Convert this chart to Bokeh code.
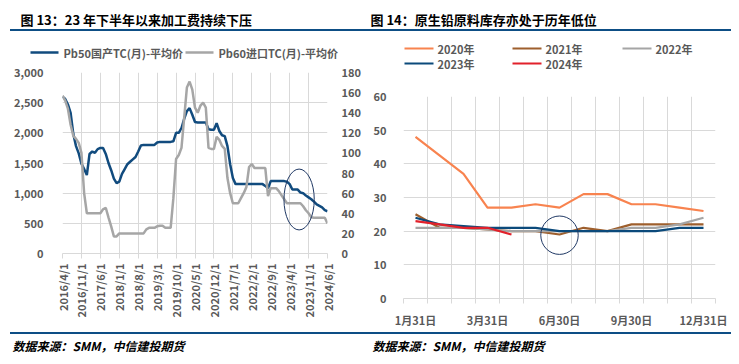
from math import pi
from bokeh.plotting import figure
from bokeh.models import (Range1d, LinearAxis, FixedTicker, NumeralTickFormatter, Label, Div, Plot)
from bokeh.layouts import column, row
from bokeh.embed import file_html
from bokeh.resources import INLINE

FONT = "Noto Sans CJK SC"
TICK_COLOR = "#595959"
GRID = "#d9d9d9"
RULE = "#0d4e85"
NO_ALIGN = {"frame_align": False} if "frame_align" in Plot.properties() else {}

# ---------------- left chart data (monthly, from 2016/4) ----------------
pb50_tc = [
    2600, 2560, 2470, 2330, 1980, 1780, 1660, 1490, 1400, 1300,
    1650, 1690, 1670, 1730, 1750, 1750, 1650, 1500, 1380, 1240,
    1165, 1190, 1320, 1400, 1480, 1520, 1560, 1600, 1690, 1790,
    1800, 1800, 1800, 1800, 1800, 1840, 1850, 1850, 1850, 1850,
    1850, 1860, 2000, 2000, 2080, 2230, 2360, 2410, 2300, 2180,
    2170, 2170, 2170, 2170, 2060, 2050, 2050, 2160, 2030, 1960,
    1945, 1780, 1480, 1250, 1150, 1150, 1150, 1150, 1150, 1150,
    1150, 1150, 1150, 1150, 1150, 1120, 1080, 1200, 1200, 1200,
    1200, 1200, 1200, 1190, 1150, 1060, 1060, 1060, 1010, 1000,
    960, 930, 900, 860, 815, 790, 765, 720, 700,
]
pb60_tc = [
    157, 152, 144, 128, 117, 114, 110, 100, 60, 40,
    40, 40, 40, 40, 40, 44, 45.5, 36, 27, 17,
    17, 20, 20, 20, 20, 20, 20, 20, 20, 20,
    20, 24, 25.5, 25.5, 25.5, 27, 27.5, 27.5, 25.5, 25.5,
    25.5, 55, 94, 98, 105, 135, 165, 171, 163, 145,
    140, 147, 150, 145, 105, 104, 104, 116, 113, 107,
    104, 75, 60, 50, 50, 50, 55, 60, 66, 86,
    89, 85, 85, 85, 85, 85, 57, 65, 65, 65,
    62, 58, 54, 50, 50, 50, 50, 50, 50, 47,
    43, 40, 36, 35.5, 35.5, 35.5, 35.5, 35.5, 30,
]
left_xtick_labels = ["2016/4/1", "2016/11/1", "2017/6/1", "2018/1/1", "2018/8/1",
                     "2019/3/1", "2019/10/1", "2020/5/1", "2020/12/1", "2021/7/1",
                     "2022/2/1", "2022/9/1", "2023/4/1", "2023/11/1", "2024/6/1"]
left_yticks = [0, 500, 1000, 1500, 2000, 2500, 3000]
right_axis_ticks = [0, 20, 40, 60, 80, 100, 120, 140, 160, 180]

# month labels for each data point
month_labels = []
yy, mm = 2016, 4
for _ in range(len(pb50_tc)):
    month_labels.append(f"{yy}/{mm}/1")
    mm += 1
    if mm > 12:
        mm, yy = 1, yy + 1
x_idx = list(range(len(month_labels)))

# ---------------- right chart data ----------------
inv_dates = ["1月31日", "2月15日", "2月28日", "3月31日", "4月30日", "5月31日", "6月30日",
             "7月31日", "8月31日", "9月30日", "10月31日", "11月30日", "12月31日"]
inv_tick_labels = ["1月31日", "3月31日", "6月30日", "9月30日", "12月31日"]
inv_2020 = [48, 42.5, 37, 27, 27, 28, 27, 31, 31, 28, 28, 27, 26]
inv_2021 = [25, 21, 21, 20.5, 20, 20, 19, 21, 20, 22, 22, 22, 22]
inv_2022 = [21, 21, 21, 20.5, 20, 20, 20, 20, 20, 21, 21, 22, 24]
inv_2023 = [24, 22, 21.5, 21, 21, 21, 20, 20, 20, 20, 20, 21, 21]
inv_2024 = [23, 22, 21, 21, 19]
inv_yticks = [0, 10, 20, 30, 40, 50, 60]

LEFT_STYLES = [("Pb50国产TC(月)-平均价", "#114b7e"), ("Pb60进口TC(月)-平均价", "#a6a6a6")]
YEAR_STYLES = [("2020年", "#f8834f"), ("2021年", "#9e5f2d"), ("2022年", "#a5a5a5"),
               ("2023年", "#0b4a7b"), ("2024年", "#e2212b")]


def style_axis(ax):
    ax.major_label_text_font = FONT
    ax.major_label_text_font_size = "11px"
    ax.major_label_text_font_style = "bold"
    ax.major_label_text_color = TICK_COLOR
    ax.minor_tick_line_color = None


def blank(width, height):
    """Figure whose frame is the whole canvas and whose units are pixels."""
    f = figure(width=width, height=height, output_backend="svg", toolbar_location=None,
               x_axis_type=None, y_axis_type=None, min_border=0,
               x_range=Range1d(0, width), y_range=Range1d(0, height), **NO_ALIGN)
    f.outline_line_color = None
    return f


def legend_strip(width, height, entries, glyph_w, standoff, line_width):
    """entries: list of (label, color, x_of_glyph_start, y_center) in strip pixels."""
    f = blank(width, height)
    for lab, col, gx, gy in entries:
        f.segment(x0=[gx], y0=[gy], x1=[gx + glyph_w], y1=[gy],
                  line_color=col, line_width=line_width)
        f.add_layout(Label(x=gx + glyph_w + standoff, y=gy, text=lab,
                           text_font=FONT, text_font_size="11px", text_font_style="bold",
                           text_color=TICK_COLOR, text_baseline="middle"))
    return f


# ---------------- left figure ----------------
p1 = figure(width=362, height=270, output_backend="svg", toolbar_location=None,
            x_range=Range1d(0, len(x_idx) - 1), y_range=Range1d(0, 3000),
            min_border_left=54, min_border_right=43, min_border_top=10, min_border_bottom=79,
            **NO_ALIGN)
p1.outline_line_color = None
p1.extra_y_ranges = {"usd": Range1d(0, 180)}

xt = [month_labels.index(s) for s in left_xtick_labels]
p1.xaxis.ticker = FixedTicker(ticks=xt)
p1.xaxis.major_label_overrides = {t: s for t, s in zip(xt, left_xtick_labels)}
p1.xaxis.major_label_orientation = pi / 2
p1.xaxis.axis_line_color = GRID
p1.xaxis.major_tick_line_color = GRID
p1.xaxis.major_tick_out = 5
p1.xaxis.major_tick_in = 0
p1.xaxis.major_label_standoff = 5
style_axis(p1.xaxis[0])

p1.yaxis.ticker = FixedTicker(ticks=left_yticks)
p1.yaxis.formatter = NumeralTickFormatter(format="0,0")
p1.yaxis.axis_line_color = None
p1.yaxis.major_tick_line_color = None
p1.yaxis.major_label_standoff = 13
style_axis(p1.yaxis[0])

rax = LinearAxis(y_range_name="usd", ticker=FixedTicker(ticks=right_axis_ticks))
rax.axis_line_color = None
rax.major_tick_line_color = None
rax.major_label_standoff = 8
style_axis(rax)
p1.add_layout(rax, "right")

p1.xgrid.grid_line_color = GRID
p1.ygrid.grid_line_color = GRID

p1.line(x_idx, pb50_tc, line_color=LEFT_STYLES[0][1], line_width=2.5)
p1.line(x_idx, pb60_tc, line_color=LEFT_STYLES[1][1], line_width=2.5, y_range_name="usd")

# highlight ellipse (recent months)
p1.ellipse(x=87.5, y=895, width=11.2, height=1010, fill_color=None,
           line_color="#1f3864", line_width=1)

leg_left = legend_strip(362, 31,
                        [(LEFT_STYLES[0][0], LEFT_STYLES[0][1], 22, 10),
                         (LEFT_STYLES[1][0], LEFT_STYLES[1][1], 177, 10)],
                        glyph_w=28, standoff=5, line_width=2.5)

# ---------------- right figure ----------------
p2 = figure(width=361, height=252, output_backend="svg", toolbar_location=None,
            x_range=Range1d(-0.5, len(inv_dates) - 0.5), y_range=Range1d(0, 60),
            min_border_left=26, min_border_right=16, min_border_top=16, min_border_bottom=34,
            **NO_ALIGN)
p2.outline_line_color = None
xi = [inv_dates.index(s) for s in inv_tick_labels]
bounds = [i - 0.5 for i in range(len(inv_dates) + 1)]
p2.xaxis.ticker = FixedTicker(ticks=xi, minor_ticks=bounds)
p2.xaxis.major_label_overrides = {t: s for t, s in zip(xi, inv_tick_labels)}
p2.xaxis.axis_line_color = GRID
p2.xaxis.major_tick_line_color = None
p2.xaxis.major_label_standoff = 7
style_axis(p2.xaxis[0])
p2.xaxis.minor_tick_line_color = GRID
p2.xaxis.minor_tick_out = 5
p2.xaxis.minor_tick_in = 0
p2.xgrid.ticker = FixedTicker(ticks=bounds)
p2.xgrid.grid_line_color = GRID

p2.yaxis.ticker = FixedTicker(ticks=inv_yticks)
p2.yaxis.axis_line_color = None
p2.yaxis.major_tick_line_color = None
p2.yaxis.major_label_standoff = 11
style_axis(p2.yaxis[0])
p2.ygrid.grid_line_color = GRID

for (name, col), vals in zip(YEAR_STYLES, [inv_2020, inv_2021, inv_2022, inv_2023, inv_2024]):
    p2.line(list(range(len(vals))), vals, line_color=col, line_width=2.2)

p2.ellipse(x=6, y=18.8, width=1.56, height=11.4, fill_color=None,
           line_color="#1f3864", line_width=1)

col_x = [34, 142, 252]
row_y = [32, 17]
leg_entries = []
for i, (lab, col) in enumerate(YEAR_STYLES):
    leg_entries.append((lab, col, col_x[i % 3], row_y[i // 3]))
leg_right = legend_strip(361, 49, leg_entries, glyph_w=29, standoff=4, line_width=2.2)


# ---------------- header / footer strips ----------------
def strip(height, texts, size, style, ymid):
    f = blank(723, height)
    for x, t in texts:
        f.add_layout(Label(x=x, y=ymid, x_units="screen", y_units="screen", text=t,
                           text_font=FONT, text_font_size=size, text_font_style=style,
                           text_color="#000000", text_baseline="middle"))
    return f


header = strip(21, [(12, "图 13：23 年下半年以来加工费持续下压"),
                    (362, "图 14：原生铅原料库存亦处于历年低位")], "13px", "bold", 10.5)
footer = strip(22, [(4, "数据来源：SMM，中信建投期货"),
                    (364, "数据来源：SMM，中信建投期货")], "12px", "bold italic", 11)

rule1 = Div(width=721, height=2, margin=(0, 0, 0, 2), styles={"background-color": RULE})
rule2 = Div(width=721, height=2, margin=(0, 0, 0, 2), styles={"background-color": RULE})

layout = column(header, rule1,
                row(column(leg_left, p1), column(leg_right, p2)),
                rule2, footer, margin=(8, 0, 0, 8))

open("out.html", "w").write(file_html(layout, INLINE))
